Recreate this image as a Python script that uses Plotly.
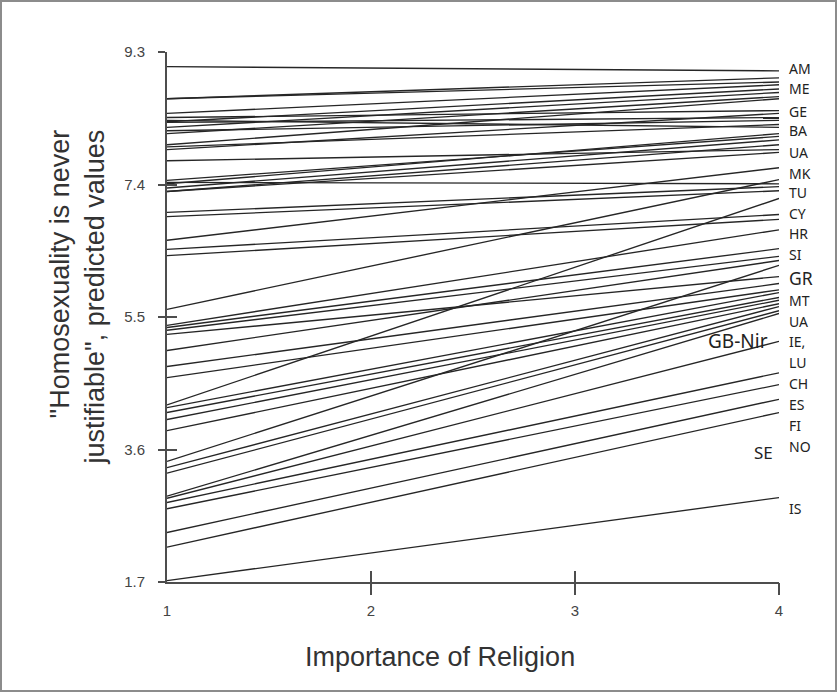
import plotly.graph_objects as go

# Importance of religion (x) levels at which predictions are shown
importance = [1, 4]

# Predicted values per country line at importance = 1 and importance = 4
pred_at_1 = [9.09, 8.63, 8.63, 8.42, 8.36, 8.30, 8.29, 8.22, 8.17, 8.13,
             7.97, 7.94, 7.90, 7.74, 8.32, 7.43, 7.46, 7.41, 7.35, 7.30,
             7.30, 6.60, 7.00, 6.94, 5.61, 6.47, 6.38, 4.24, 5.38, 5.35,
             5.31, 5.25, 5.02, 4.79, 4.63, 4.20, 4.13, 4.03, 3.87, 3.43,
             3.34, 3.26, 2.93, 2.90, 2.84, 2.75, 2.41, 2.20, 1.72]
pred_at_4 = [9.03, 8.87, 8.93, 8.83, 8.46, 8.77, 8.36, 8.72, 8.32, 8.66,
             8.63, 8.26, 8.42, 7.90, 8.22, 7.41, 8.09, 8.13, 8.04, 7.97,
             7.86, 7.64, 7.37, 7.31, 7.47, 6.97, 6.90, 7.20, 6.75, 6.48,
             6.37, 6.08, 6.31, 5.98, 5.89, 5.85, 5.78, 5.74, 5.69, 6.24,
             5.65, 5.59, 5.55, 5.15, 4.70, 4.53, 4.32, 4.13, 2.91]

# Country labels on the right margin
label_names = ["AM", "ME", "GE", "BA", "UA", "MK", "TU", "CY", "HR", "SI",
               "GR", "MT", "UA", "IE,", "LU", "CH", "ES", "FI", "NO", "IS"]
label_vals = [9.06, 8.77, 8.44, 8.17, 7.86, 7.56, 7.28, 6.98, 6.70, 6.39,
              6.06, 5.73, 5.43, 5.15, 4.85, 4.55, 4.24, 3.94, 3.64, 2.75]

# Labels placed inside the plot near line ends
inner_names = ["GB-Nir", "SE"]
inner_vals = [5.16, 3.56]
inner_x = [3.955, 3.98]

y_ticks = [1.7, 3.6, 5.5, 7.4, 9.3]
x_ticks = [1, 2, 3, 4]

x_title = "Importance of Religion"
y_title = '"Homosexuality is never<br>justifiable", predicted values'

LINE_COLOR = "#262626"
AXIS_COLOR = "#4d4d4d"

fig = go.Figure()
for i, (a, b) in enumerate(zip(pred_at_1, pred_at_4)):
    # first line sits on the twin (tick-only) axes so they are drawn
    xa, ya = ("x2", "y2") if i == 0 else ("x", "y")
    fig.add_trace(go.Scatter(x=importance, y=[a, b], mode="lines",
                             xaxis=xa, yaxis=ya,
                             line=dict(color=LINE_COLOR, width=1.35),
                             hoverinfo="skip", showlegend=False))

annotations = []
for name, v in zip(label_names, label_vals):
    big = name == "GR"
    annotations.append(dict(x=4, y=v, xref="x", yref="y", text=name,
                            showarrow=False, xanchor="left", yanchor="middle",
                            xshift=8,
                            font=dict(family="Noto Sans", size=17.5 if big else 14,
                                      color="#222")))
for name, v, xv in zip(inner_names, inner_vals, inner_x):
    annotations.append(dict(x=xv, y=v, xref="x", yref="y", text=name,
                            showarrow=False, xanchor="right", yanchor="middle",
                            font=dict(family="Noto Sans",
                                      size=19 if name == "GB-Nir" else 17,
                                      color="#222")))

title_font = dict(family="Liberation Sans", size=27, color="#333")
# axis titles (placed as in the original, off-centre)
annotations.append(dict(x=(440 - 167) / 612, y=-(657 - 582) / 530,
                        xref="paper", yref="paper", text=x_title,
                        showarrow=False, xanchor="center", yanchor="middle",
                        font=title_font))
annotations.append(dict(x=-(167 - 77) / 612, y=1 - (128 - 52) / 530,
                        xref="paper", yref="paper", text=y_title,
                        showarrow=False, xanchor="center", yanchor="top",
                        textangle=-90, align="right",
                        font=title_font))

axis_font = dict(family="Liberation Sans", size=15, color="#444")

fig.update_layout(
    width=837, height=692,
    margin=dict(l=167, r=58, t=52, b=110),
    paper_bgcolor="white", plot_bgcolor="white",
    showlegend=False,
    annotations=annotations,
    xaxis=dict(range=[1, 4], tickvals=x_ticks, ticks="inside", ticklen=11,
               tickwidth=2, tickcolor=AXIS_COLOR, showline=True,
               linecolor=AXIS_COLOR, linewidth=2, showgrid=False, zeroline=False,
               tickfont=axis_font, ticklabelstandoff=14),
    xaxis2=dict(range=[1, 4], overlaying="x", anchor="y",
                tickvals=[2, 3, 4], ticks="outside", ticklen=12, tickwidth=2,
                tickcolor=AXIS_COLOR, showticklabels=False, showline=False,
                showgrid=False, zeroline=False),
    yaxis=dict(range=[1.7, 9.3], tickvals=y_ticks, ticks="outside", ticklen=7,
               tickwidth=2, tickcolor=AXIS_COLOR, showline=True,
               linecolor=AXIS_COLOR, linewidth=2, showgrid=False, zeroline=False,
               tickfont=axis_font, ticklabelstandoff=10),
    yaxis2=dict(range=[1.7, 9.3], overlaying="y", anchor="x",
                side="left", tickvals=y_ticks, ticks="inside", ticklen=10,
                tickwidth=2, tickcolor=AXIS_COLOR, showticklabels=False,
                showline=False, showgrid=False, zeroline=False),
    shapes=[dict(type="rect", xref="paper", yref="paper",
                 x0=-166 / 612, x1=669 / 612, y0=-109 / 530, y1=1 + 51 / 530,
                 line=dict(color="#8c8c8c", width=2), layer="above")],
)

fig.write_html("out.html")
